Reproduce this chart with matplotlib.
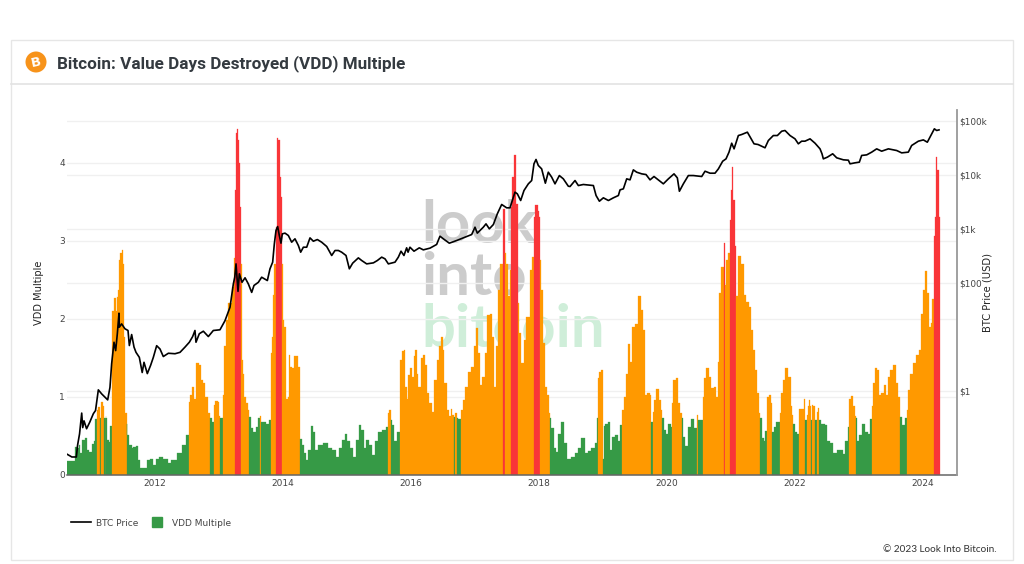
import numpy as np
import matplotlib
matplotlib.use('Agg')
import matplotlib.pyplot as plt
from matplotlib.patches import Circle, Rectangle
from matplotlib.lines import Line2D
from matplotlib.ticker import FixedLocator, FixedFormatter, NullLocator

# VDD multiple: (decimal year, value)
vdd_2010 = [(2010.63,.18),(2010.72,.18),(2010.775,.36),(2010.796,.34),(2010.817,.385),(2010.838,.28),(2010.879,.45),
            (2010.921,.47),(2010.952,.32),(2010.994,.30)]
vdd_2011 = [(2011.025,.40),(2011.057,.44),(2011.077,.72),(2011.088,.83),(2011.119,.87),(2011.140,.73),(2011.150,.90),
            (2011.176,.93),(2011.192,.88),(2011.208,.73),(2011.229,.76),(2011.239,.73),(2011.25,.45),(2011.296,.42),
            (2011.307,.63),(2011.322,1.47),(2011.348,2.1),(2011.375,2.27),(2011.40,2.1),(2011.411,2.28),(2011.427,2.37),
            (2011.442,2.76),(2011.468,2.84),(2011.494,2.89),(2011.515,2.71),(2011.526,1.77),(2011.541,.79),(2011.557,.65),
            (2011.583,.51),(2011.619,.385),(2011.651,.34),(2011.672,.36),(2011.724,.37),(2011.75,.19),(2011.791,.085),
            (2011.844,.085),(2011.896,.19),(2011.948,.2),(2011.984,.13)]
vdd_2012 = [(2012.036,.21),(2012.078,.23),(2012.182,.21),(2012.224,.15),(2012.287,.19),(2012.391,.28),(2012.453,.385),
            (2012.521,.51),(2012.531,.94),(2012.573,1.03),(2012.599,1.13),(2012.625,.98),(2012.662,1.43),(2012.704,1.41),
            (2012.73,1.22),(2012.766,1.18),(2012.808,1.0),(2012.844,.79),(2012.86,.73),(2012.912,.68),(2012.928,.90),
            (2012.964,.95)]
vdd_2013 = [(2013.001,.93),(2013.016,.76),(2013.021,.73),(2013.058,1.03),(2013.094,1.65),(2013.12,1.99),(2013.173,2.2),
            (2013.225,2.41),(2013.24,2.78),(2013.251,3.65),(2013.267,4.38),(2013.288,4.44),(2013.309,4.29),(2013.329,4.0),
            (2013.345,3.44),(2013.35,2.71),(2013.361,1.47),(2013.381,1.3),(2013.402,1.0),(2013.434,.92),(2013.47,.83),
            (2013.475,.74),(2013.512,.6),(2013.564,.555),(2013.59,.62),(2013.632,.73),(2013.647,.76),(2013.658,.68),
            (2013.72,.68),(2013.757,.66),(2013.798,.705),(2013.809,1.56),(2013.835,1.77),(2013.856,2.31),(2013.877,2.71),
            (2013.887,3.18),(2013.913,4.32),(2013.939,4.29),(2013.965,3.82),(2013.981,3.57),(2013.991,2.71)]
vdd_2014 = [(2014.007,1.99),(2014.033,1.9),(2014.059,.98),(2014.085,1.0),(2014.101,1.54),(2014.127,1.39),(2014.153,1.37),
            (2014.189,1.53),(2014.226,1.53),(2014.257,1.39),(2014.268,.83),(2014.273,.46),(2014.309,.385),(2014.346,.28),
            (2014.382,.19),(2014.414,.32),(2014.45,.63),(2014.487,.555),(2014.528,.32),(2014.58,.385),(2014.659,.415),
            (2014.737,.34),(2014.799,.32),(2014.851,.23),(2014.904,.34),(2014.945,.45),(2014.987,.53)]
vdd_2015 = [(2015.023,.43),(2015.075,.34),(2015.128,.235),(2015.169,.45),(2015.206,.64),(2015.247,.58),(2015.284,.34),
            (2015.32,.45),(2015.373,.385),(2015.404,.255),(2015.466,.43),(2015.519,.555),(2015.581,.58),(2015.633,.62),
            (2015.644,.79),(2015.68,.83),(2015.691,.705),(2015.727,.64),(2015.753,.44),(2015.805,.555),(2015.826,1.0),
            (2015.847,1.47),(2015.873,1.59),(2015.899,1.6),(2015.92,1.13),(2015.946,.98),(2015.977,1.28)]
vdd_2016 = [(2016.003,1.37),(2016.029,1.26),(2016.06,1.52),(2016.081,1.6),(2016.102,1.3),(2016.133,1.13),(2016.175,1.5),
            (2016.206,1.54),(2016.238,1.41),(2016.269,1.05),(2016.311,.92),(2016.352,.81),(2016.384,1.22),(2016.43,1.47),
            (2016.456,1.65),(2016.483,1.77),(2016.509,1.6),(2016.54,1.175),(2016.582,.83),(2016.613,.76),(2016.639,.84),
            (2016.665,.77),(2016.675,.74),(2016.691,.8),(2016.727,.73),(2016.759,.72),(2016.79,.83),(2016.832,.96),
            (2016.873,1.13),(2016.915,1.32),(2016.967,1.39)]
vdd_2017 = [(2017.004,1.65),(2017.03,1.89),(2017.061,1.56),(2017.098,1.15),(2017.134,1.26),(2017.176,1.56),(2017.218,2.05),
            (2017.249,2.07),(2017.291,1.77),(2017.317,1.13),(2017.343,1.65),(2017.384,2.37),(2017.421,2.71),(2017.442,3.41),
            (2017.473,2.84),(2017.509,2.71),(2017.541,2.29),(2017.556,2.63),(2017.572,3.44),(2017.603,3.82),(2017.64,4.10),
            (2017.66,3.48),(2017.671,2.2),(2017.707,1.82),(2017.749,1.43),(2017.786,1.73),(2017.812,2.03),(2017.843,2.03),
            (2017.874,2.63),(2017.906,2.8),(2017.926,3.31),(2017.968,3.46)]
vdd_2018 = [(2018.0,3.38),(2018.015,3.31),(2018.025,2.76),(2018.046,2.37),(2018.083,1.69),(2018.124,1.13),(2018.15,1.03),
            (2018.171,.79),(2018.182,.73),(2018.218,.6),(2018.255,.34),(2018.291,.3),(2018.323,.53),(2018.369,.68),
            (2018.411,.41),(2018.463,.21),(2018.541,.235),(2018.594,.28),(2018.636,.34),(2018.672,.48),(2018.709,.47),
            (2018.74,.28),(2018.792,.31),(2018.855,.34),(2018.907,.41),(2018.912,.73),(2018.923,1.24),(2018.959,1.32),
            (2018.996,1.35)]
vdd_2019 = [(2019.006,.21),(2019.022,.63),(2019.063,.66),(2019.105,.68),(2019.126,.32),(2019.168,.49),(2019.22,.51),
            (2019.256,.43),(2019.298,.64),(2019.308,.83),(2019.35,1.0),(2019.387,1.3),(2019.418,1.68),(2019.444,1.45),
            (2019.48,1.9),(2019.532,1.94),(2019.574,2.29),(2019.611,2.12),(2019.647,1.86),(2019.668,1.03),(2019.715,1.05),
            (2019.751,1.03),(2019.762,.68),(2019.783,.81),(2019.819,.96),(2019.856,1.1),(2019.897,.96),(2019.923,.83),
            (2019.934,.73),(2019.976,.58)]
vdd_2020 = [(2020.002,.53),(2020.043,.66),(2020.08,.62),(2020.09,.92),(2020.121,1.22),(2020.158,1.24),(2020.194,.92),
            (2020.226,.79),(2020.236,.73),(2020.273,.49),(2020.309,.37),(2020.351,.62),(2020.403,.72),(2020.46,.6),
            (2020.481,.77),(2020.497,.705),(2020.554,.71),(2020.57,1.0),(2020.601,1.24),(2020.638,1.37),(2020.679,1.26),
            (2020.721,1.11),(2020.757,1.13),(2020.783,1.0),(2020.81,1.45),(2020.841,2.33),(2020.867,2.67),(2020.893,2.97),
            (2020.919,2.44),(2020.95,2.76),(2020.982,2.84),(2020.992,3.27)]
vdd_2021 = [(2021.018,3.65),(2021.034,3.95),(2021.055,3.53),(2021.075,2.93),(2021.091,2.29),(2021.138,2.81),(2021.19,2.71),
            (2021.221,2.31),(2021.263,2.22),(2021.304,2.16),(2021.336,1.86),(2021.367,1.6),(2021.398,1.35),(2021.435,1.05),
            (2021.456,.79),(2021.466,.73),(2021.502,.47),(2021.534,.43),(2021.555,.57),(2021.57,1.0),(2021.617,1.02),
            (2021.643,.92),(2021.654,.555),(2021.695,.62),(2021.737,.68),(2021.768,.79),(2021.80,1.05),(2021.836,1.22),
            (2021.878,1.37),(2021.919,1.26),(2021.956,.88),(2021.972,.77),(2021.982,.66)]
vdd_2022 = [(2022.024,.555),(2022.065,.53),(2022.076,.84),(2022.128,.85),(2022.154,.98),(2022.17,.705),(2022.19,.77),
            (2022.217,.88),(2022.232,.96),(2022.258,.88),(2022.264,.70),(2022.274,.9),(2022.305,.88),(2022.316,.70),
            (2022.357,.81),(2022.378,.86),(2022.389,.705),(2022.451,.66),(2022.493,.64),(2022.529,.43),(2022.581,.41),
            (2022.634,.28),(2022.686,.32),(2022.738,.32),(2022.774,.265),(2022.816,.43),(2022.847,.62),(2022.858,.98),
            (2022.894,1.01),(2022.931,.88),(2022.946,.76),(2022.957,.73),(2022.983,.43)]
vdd_2023 = [(2023.025,.51),(2023.077,.65),(2023.118,.555),(2023.17,.53),(2023.191,.72),(2023.207,.88),(2023.244,1.18),
            (2023.275,1.37),(2023.311,1.35),(2023.337,1.03),(2023.379,1.05),(2023.405,1.15),(2023.441,1.03),(2023.478,1.26),
            (2023.52,1.35),(2023.561,1.41),(2023.598,1.18),(2023.64,1.0),(2023.65,.74),(2023.702,.64),(2023.739,.73),
            (2023.754,.83),(2023.791,1.09),(2023.832,1.3),(2023.884,1.43),(2023.926,1.54),(2023.963,1.6),(2023.989,2.07)]
vdd_2024 = [(2024.025,2.37),(2024.056,2.61),(2024.093,2.33),(2024.124,1.9),(2024.145,1.95),(2024.161,2.26),(2024.182,3.06),
            (2024.202,3.31),(2024.223,4.08),(2024.244,3.91),(2024.265,3.31),(2024.272,3.2)]

# BTC price in USD: (decimal year, price)
price_2010_12 = [(2010.63,.067),(2010.70,.06),(2010.77,.06),(2010.79,.10),(2010.82,.16),(2010.854,.39),(2010.87,.21),
                 (2010.89,.28),(2010.93,.2),(2010.98,.265),(2011.036,.38),(2011.07,.435),(2011.114,1.05),(2011.166,.885),
                 (2011.198,.81),(2011.26,.685),(2011.296,1.17),(2011.322,3.2),(2011.359,8.0),(2011.385,5.6),(2011.411,11.5),
                 (2011.437,27.6),(2011.442,15.2),(2011.478,17.5),(2011.53,14.2),(2011.578,13.2),(2011.599,6.95),(2011.635,11.1),
                 (2011.672,6.5),(2011.703,5.2),(2011.755,4.2),(2011.80,2.2),(2011.828,3.4),(2011.88,2.1),(2011.932,3.0),
                 (2011.974,4.2),(2012.026,6.9),(2012.078,6.0),(2012.13,4.35),(2012.209,5.0),(2012.313,4.9),(2012.391,5.2),
                 (2012.469,6.5),(2012.537,8.0),(2012.589,10.2),(2012.625,13.2),(2012.641,8.0),(2012.693,11.5),(2012.756,12.8),
                 (2012.834,10.2),(2012.912,13.2),(2013.016,13.6),(2013.094,20),(2013.173,35.6)]
price_2013_15 = [(2013.225,96),(2013.247,128),(2013.267,226),(2013.298,70),(2013.319,148),(2013.361,103),(2013.408,125),
                 (2013.46,96),(2013.512,67),(2013.548,90),(2013.616,103),(2013.668,128),(2013.757,111),(2013.798,183),
                 (2013.84,243),(2013.866,530),(2013.892,938),(2013.918,1110),(2013.944,758),(2013.97,546),(2013.991,813),
                 (2014.033,838),(2014.085,758),(2014.137,570),(2014.189,658),(2014.242,494),(2014.278,372),(2014.32,460),
                 (2014.372,460),(2014.424,685),(2014.476,594),(2014.539,638),(2014.606,570),(2014.685,474),(2014.763,323),
                 (2014.815,400),(2014.867,400),(2014.919,372),(2014.987,323),(2015.039,183),(2015.091,233),(2015.18,292),
                 (2015.232,261),(2015.31,226),(2015.415,236),(2015.477,261),(2015.545,301),(2015.597,280),(2015.649,226),
                 (2015.753,243),(2015.805,301)]
price_2016_18 = [(2015.847,388),(2015.893,323),(2015.935,448),(2015.957,372),(2015.987,460),(2016.05,388),(2016.133,448),
                 (2016.196,411),(2016.3,442),(2016.404,517),(2016.456,736),(2016.509,658),(2016.602,546),(2016.717,612),
                 (2016.821,685),(2016.952,790),(2017.004,1080),(2017.04,838),(2017.134,1080),(2017.176,1245),(2017.228,1007),
                 (2017.291,1210),(2017.353,1910),(2017.421,2845),(2017.499,2466),(2017.551,2466),(2017.629,4810),(2017.666,4480),
                 (2017.718,3370),(2017.77,5160),(2017.838,6860),(2017.89,7900),(2017.926,16100),(2017.958,19400),(2017.994,15000),
                 (2018.046,13000),(2018.104,7050),(2018.15,11270),(2018.203,9120),(2018.255,6860),(2018.323,9770),(2018.385,8490),
                 (2018.463,6200)]
price_2019_21 = [(2018.49,6120),(2018.568,7900),(2018.62,6380),(2018.698,6670),(2018.855,6380),(2018.897,4170),(2018.949,3270),
                 (2019.011,3780),(2019.09,3370),(2019.168,3780),(2019.246,4170),(2019.272,5310),(2019.324,5540),(2019.376,8490),
                 (2019.428,8130),(2019.48,12450),(2019.532,11270),(2019.611,10500),(2019.678,10200),(2019.741,8130),(2019.803,9380),
                 (2019.871,8130),(2019.949,6860),(2020.028,8490),(2020.116,10500),(2020.168,8850),(2020.2,5000),(2020.262,6860),
                 (2020.34,9770),(2020.418,9770),(2020.549,9380),(2020.601,11750),(2020.679,10800),(2020.757,10800),(2020.81,13000),
                 (2020.877,18000),(2020.929,19900),(2020.976,26500),(2021.018,38800),(2021.055,30500),(2021.122,53800),
                 (2021.174,56200),(2021.263,62100),(2021.367,37800),(2021.43,36700),(2021.539,31900),(2021.591,43500),
                 (2021.669,53800),(2021.732,53800)]
price_2022_24 = [(2021.80,64700),(2021.852,66700),(2021.93,53800),(2022.008,46700),(2022.06,37800),(2022.112,42300),(2022.164,42300),
                 (2022.243,46700),(2022.321,38800),(2022.399,30500),(2022.43,24700),(2022.451,19900),(2022.514,21400),
                 (2022.597,24700),(2022.66,20800),(2022.764,19100),(2022.842,18800),(2022.868,16100),(2022.946,16800),
                 (2023.014,17300),(2023.05,23000),(2023.129,23600),(2023.207,26500),(2023.285,30500),(2023.363,27600),
                 (2023.468,30500),(2023.598,28400),(2023.676,25700),(2023.78,26500),(2023.832,35200),(2023.937,42300),
                 (2024.015,44700),(2024.077,40500),(2024.145,57800),(2024.187,71600),(2024.223,66700),(2024.26,68500)]

year_ticks = [2012, 2014, 2016, 2018, 2020, 2022, 2024]
vdd_ticks = [0, 1, 2, 3, 4]
price_ticks = [1, 100, 1000, 10000, 100000]
price_labels = ['$1', '$100', '$1k', '$10k', '$100k']

GREEN = '#369a46'
ORANGE = '#ff9900'
RED = '#f93538'
GRID = '#f0f0f0'
TEXT = '#444444'

vdd = vdd_2010 + vdd_2011 + vdd_2012 + vdd_2013 + vdd_2014 + vdd_2015 + vdd_2016 + vdd_2017 + vdd_2018 + vdd_2019 \
    + vdd_2020 + vdd_2021 + vdd_2022 + vdd_2023 + vdd_2024
vdd_dates = np.array([p[0] for p in vdd])
vdd_values = np.array([p[1] for p in vdd])
price = price_2010_12 + price_2013_15 + price_2016_18 + price_2019_21 + price_2022_24
price_dates = np.array([p[0] for p in price])
price_values = np.array([p[1] for p in price])

W, H = 1024, 564
fig = plt.figure(figsize=(W / 100, H / 100), dpi=100, facecolor='white')

# page furniture in pixel coordinates, sits behind the chart
page = fig.add_axes([0, 0, 1, 1], zorder=0)
page.set_xlim(0, W)
page.set_ylim(H, 0)
page.axis('off')
page.add_patch(Rectangle((11, 40), 1002, 520, fc='white', ec='#e6e6e6', lw=1))
page.plot([11, 1013], [84, 84], color='#e3e3e3', lw=1.2)
page.add_patch(Circle((36, 62), 10.5, fc='#f7931a', ec='none'))
page.text(36, 62.5, 'B', color='white', fontsize=9.5, fontweight='bold', family='DejaVu Sans',
          ha='center', va='center', rotation=12)
page.text(57, 63.5, 'Bitcoin: Value Days Destroyed (VDD) Multiple', color='#343a40', fontsize=12.3,
          fontweight='bold', family='Roboto', va='center')
page.text(997, 549.5, '\u00a9 2023 Look Into Bitcoin.', color='#333333', fontsize=7.2, family='Lato',
          ha='right', va='center')
# watermark
page.text(421, 243, 'look', color='#cccccc', fontsize=43, fontweight='bold', family='Lato', va='baseline')
page.text(421, 295, 'into', color='#cccccc', fontsize=43, fontweight='bold', family='Lato', va='baseline')
page.text(421, 347, 'bitcoin', color='#cfeed9', fontsize=43, fontweight='bold', family='Lato', va='baseline')

ax = fig.add_axes([67 / W, 1 - 475 / H, 890 / W, 365 / H], zorder=1)
ax.patch.set_visible(False)

# colour by level: green under .75, red from 2.9. one stepped fill per colour run,
# steps sit halfway between readings and a run starts exactly on its first reading
levels = np.where(vdd_values >= 2.9, 2, np.where(vdd_values >= 0.75, 1, 0))
level_colors = [GREEN, ORANGE, RED]
run_starts = np.r_[0, np.where(np.diff(levels) != 0)[0] + 1]
run_ends = np.r_[run_starts[1:], len(levels)]
for start, end in zip(run_starts, run_ends):
    dates = vdd_dates[start:end]
    right = vdd_dates[end] if end < len(vdd_dates) else dates[-1]
    edges = np.r_[dates[0], (dates[:-1] + dates[1:]) / 2, right]
    xs = np.repeat(edges, 2)[1:-1]
    ys = np.repeat(vdd_values[start:end], 2)
    ax.fill_between(xs, 0, ys, color=level_colors[levels[start]], linewidth=0.2, zorder=2)

ax.set_xlim(2010.624, 2024.541)
ax.set_ylim(0, 365 / 78)
ax.set_xticks(year_ticks)
ax.set_xticklabels([str(y) for y in year_ticks])
ax.set_yticks(vdd_ticks)
ax.tick_params(axis='both', length=0, labelsize=6.5, labelcolor=TEXT)
ax.tick_params(axis='x', pad=3)
ax.tick_params(axis='y', pad=1.5)
ax.yaxis.grid(True, color=GRID, lw=1)
ax.set_axisbelow(True)
ax.set_ylabel('VDD Multiple', fontsize=7.1, color='#222222', labelpad=11)
for side in ['top', 'left', 'right']:
    ax.spines[side].set_visible(False)
ax.spines['bottom'].set_color('#666666')
ax.spines['bottom'].set_linewidth(1.1)
ax.spines['bottom'].set_zorder(5)

ax2 = ax.twinx()
ax2.set_zorder(2)
ax2.patch.set_visible(False)
ax2.set_yscale('log')
ax2.set_ylim(10 ** (-84 / 54), 10 ** (281 / 54))
ax2.plot(price_dates, price_values, color='black', lw=1.2, zorder=4)
ax2.yaxis.set_major_locator(FixedLocator(price_ticks))
ax2.yaxis.set_major_formatter(FixedFormatter(price_labels))
ax2.yaxis.set_minor_locator(NullLocator())
ax2.tick_params(axis='y', length=0, labelsize=6.4, labelcolor=TEXT, pad=1.5)
for tick in price_ticks:
    ax.axhline(np.interp(np.log10(tick), [-84 / 54, 281 / 54], [0, 365 / 78]), color=GRID, lw=1, zorder=0.5)
ax2.set_ylabel('BTC Price (USD)', fontsize=7.2, color='#222222', labelpad=-3)
for side in ['top', 'left', 'bottom']:
    ax2.spines[side].set_visible(False)
ax2.spines['right'].set_color('#999999')
ax2.spines['right'].set_linewidth(1.3)

handles = [Line2D([0], [0], color='black', lw=1.2),
           Line2D([0], [0], color=GREEN, marker='s', markersize=6.5, linestyle='none')]
fig.legend(handles, ['BTC Price', 'VDD Multiple'], ncol=2, frameon=False, fontsize=6.5, labelcolor=TEXT,
           loc='center left', bbox_to_anchor=(71 / W, 1 - 523 / H), handlelength=2.2,
           handletextpad=0.55, columnspacing=0.95, borderpad=0, borderaxespad=0)

fig.savefig('out.png', dpi=100, facecolor='white')
